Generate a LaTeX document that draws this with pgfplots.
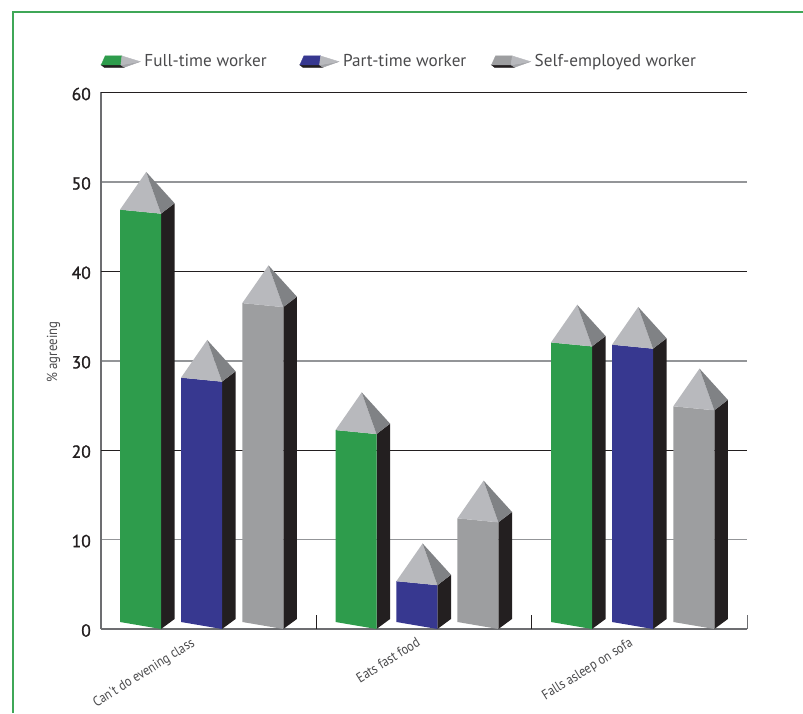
\documentclass[border=0pt]{standalone}
\usepackage{fontspec}
\usepackage{pgfplots}
\pgfplotsset{compat=1.18}
\setmainfont{PT Sans}
\newfontfamily\narrowfont[FakeStretch=0.88]{PT Sans}
\newfontfamily\tickfont[FakeBold=1.2]{PT Sans}

\definecolor{frameGreen}{HTML}{3FA757}
\definecolor{barGreen}{HTML}{2E9C4C}
\definecolor{barBlue}{HTML}{373890}
\definecolor{barGrey}{HTML}{9D9EA0}
\definecolor{sideBlack}{HTML}{231F20}
\definecolor{roofLight}{HTML}{B8B9BD}
\definecolor{roofDark}{HTML}{808285}
\definecolor{roofMid}{HTML}{A3A4A8}
\definecolor{gridGrey}{HTML}{939598}
\definecolor{axisGrey}{HTML}{6D6E71}
\definecolor{textGrey}{HTML}{4A4A4C}

% One pencil-shaped column: left edge, value at the front right corner, face colour
\newcommand{\prism}[3]{%
  \pgfmathsetmacro{\xa}{#1}%
  \pgfmathsetmacro{\xb}{#1+41.0}%
  \pgfmathsetmacro{\xc}{#1+54.6}%
  \pgfmathsetmacro{\xp}{#1+26.2}%
  \pgfmathsetmacro{\yl}{#2+0.447}%
  \pgfmathsetmacro{\yr}{#2+1.163}%
  \pgfmathsetmacro{\ya}{#2+4.664}%
  \edef\doprism{%
    \noexpand\addplot[fill=sideBlack,draw=none,forget plot,mark=none]
      coordinates {(\xb,0) (\xc,1.119) (\xc,\yr) (\xb,#2)} -- cycle;
    \noexpand\addplot[fill=#3,draw=none,forget plot,mark=none]
      coordinates {(\xa,0.783) (\xb,0) (\xb,#2) (\xa,\yl)} -- cycle;
    \noexpand\addplot[fill=roofLight,draw=none,forget plot,mark=none]
      coordinates {(\xa,\yl) (\xb,#2) (\xp,\ya)} -- cycle;
    \noexpand\addplot[fill=roofDark,draw=none,forget plot,mark=none]
      coordinates {(\xb,#2) (\xc,\yr) (\xp,\ya)} -- cycle;
  }%
  \doprism
}

% Small pencil drawn on its side for the legend
\pgfplotsset{
  pencil key/.style={
    legend image code/.code={
      \fill[sideBlack] (0pt,-3.3pt) -- (3pt,-5.7pt) -- (23pt,-5.7pt) -- (19.7pt,-3.3pt) -- cycle;
      \fill[#1] (0pt,-3.3pt) -- (4pt,5.7pt) -- (20.7pt,5.7pt) -- (19.7pt,-3.3pt) -- cycle;
      \fill[roofMid] (19.7pt,-3.3pt) -- (23pt,-5.7pt) -- (39pt,0pt) -- cycle;
      \fill[roofLight] (20.7pt,5.7pt) -- (19.7pt,-3.3pt) -- (39pt,0pt) -- cycle;
    }
  }
}

\begin{document}
\begin{tikzpicture}[x=1pt,y=1pt]
  \path[use as bounding box] (0,0) rectangle (803,713);
  \draw[frameGreen,line width=2pt] (12.6,0) -- (12.6,701.4) -- (803,701.4);

  \begin{axis}[
    at={(101pt,84pt)}, anchor=south west,
    scale only axis, width=646pt, height=536.5pt,
    xmin=0, xmax=646, ymin=0, ymax=60,
    axis y line*=left, axis x line*=bottom,
    axis line style={draw=axisGrey,line width=1.3pt,-},
    clip=false,
    ytick={0,10,30,50},
    extra y ticks={20,40,60},
    ymajorgrids,
    grid style={draw=gridGrey,line width=1.6pt},
    extra y tick style={grid style={draw=sideBlack,line width=0.9pt}},
    major tick length=0pt,
    /pgf/number format/assume math mode=true,
    yticklabel style={font=\fontsize{17.5}{17.5}\tickfont,text=sideBlack,inner sep=0pt,xshift=-10pt,yshift=-1.5pt},
    xtick={84.5,310,522.5},
    xticklabels={Can't do evening class,Eats fast food,Falls asleep on sofa},
    xticklabel style={font=\fontsize{14}{14}\narrowfont,text=textGrey,rotate=32,anchor=north east,inner sep=0pt,yshift=-9pt},
    extra x ticks={215,430},
    extra x tick labels={},
    extra x tick style={tick align=inside,major tick length=14pt,tick style={draw=sideBlack,line width=0.8pt}},
    every axis y label/.style={at={(axis description cs:-0.0735,0.516)},rotate=90,anchor=center},
    ylabel={\fontsize{14.5}{14.5}\narrowfont\color{textGrey}\% agreeing},
    legend style={
      at={(rel axis cs:0,1.0)},
      anchor=south west, xshift=0pt, yshift=24pt,
      draw=none, fill=none, inner sep=0pt, outer sep=0pt,
      legend columns=-1,
      font=\fontsize{17.2}{17.2}\selectfont,
      text=textGrey,
      /tikz/column 1/.style={column sep=4pt},
      /tikz/column 2/.style={column sep=33pt},
      /tikz/column 3/.style={column sep=4pt},
      /tikz/column 4/.style={column sep=25pt},
      /tikz/column 5/.style={column sep=4pt},
      nodes={inner sep=0pt},
    },
  ]
    \addlegendimage{pencil key=barGreen}\addlegendentry{Full-time worker}
    \addlegendimage{pencil key=barBlue}\addlegendentry{Part-time worker}
    \addlegendimage{pencil key=barGrey}\addlegendentry{Self-employed worker}

    % right-hand closing tick of the category axis
    \addplot[draw=axisGrey,line width=1pt,forget plot,mark=none] coordinates {(646,0) (646,1.57)};

    % Can't do evening class
    \prism{19}{46.45}{barGreen}
    \prism{80}{27.66}{barBlue}
    \prism{141.3}{36.0}{barGrey}
    % Eats fast food
    \prism{234.5}{21.8}{barGreen}
    \prism{295.4}{4.9}{barBlue}
    \prism{356.4}{11.93}{barGrey}
    % Falls asleep on sofa
    \prism{450}{31.6}{barGreen}
    \prism{511}{31.35}{barBlue}
    \prism{572.3}{24.46}{barGrey}
  \end{axis}
\end{tikzpicture}
\end{document}
